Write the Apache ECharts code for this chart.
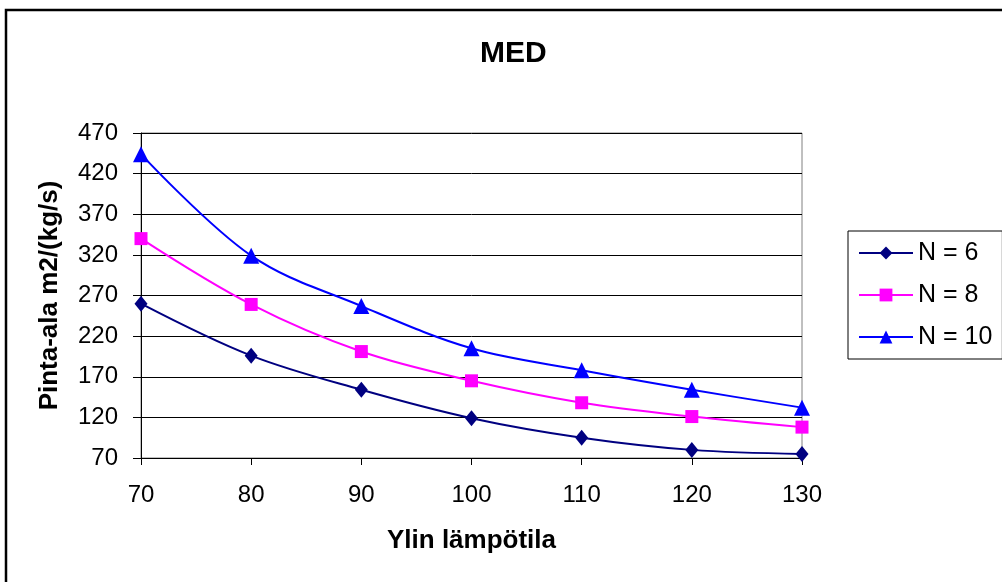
<!DOCTYPE html>
<html>
<head>
<meta charset="utf-8">
<title>MED</title>
<script src="https://cdn.jsdelivr.net/npm/echarts@6/dist/echarts.min.js"></script>
<style>
  html, body { margin: 0; padding: 0; background: #fff; }
  #chart { width: 1002px; height: 582px; }
</style>
</head>
<body>
<div id="chart"></div>
<script>
// Top temperature on the x axis
const temperatures = [70, 80, 90, 100, 110, 120, 130];
// Heat transfer area per unit flow for different effect counts
const areaN6 = [260, 196, 154, 119, 95, 80, 75];
const areaN8 = [340, 259, 201, 165, 138, 121, 108];
const areaN10 = [444, 319, 257, 205, 178, 154, 132];
// Y axis tick values
const yTicks = [70, 120, 170, 220, 270, 320, 370, 420, 470];

const FONT = "'Liberation Sans', Arial, sans-serif";

function pairs(values) {
  return temperatures.map((t, i) => [t, values[i]]);
}

function lineSeries(name, values, color, symbol, size) {
  return {
    name: name,
    type: 'line',
    data: pairs(values),
    smooth: 0.35,
    symbol: symbol,
    symbolSize: size,
    showSymbol: true,
    lineStyle: { color: color, width: 2 },
    itemStyle: { color: color },
    emphasis: { disabled: true },
    z: 3
  };
}

const chart = echarts.init(document.getElementById('chart'), null, { renderer: 'canvas' });

chart.setOption({
  animation: false,
  backgroundColor: '#fff',
  textStyle: { fontFamily: FONT },
  graphic: [{
    type: 'rect',
    shape: { x: 6, y: 10, width: 1200, height: 800 },
    style: { fill: null, stroke: '#000', lineWidth: 2.5 },
    silent: true,
    z: 0
  }],
  title: {
    text: 'MED',
    left: 475,
    top: 34,
    textStyle: { fontFamily: FONT, fontSize: 30, fontWeight: 'bold', color: '#000' }
  },
  grid: {
    left: 141,
    right: 200,
    top: 133,
    bottom: 124,
    show: true,
    borderColor: '#808080',
    borderWidth: 1,
    backgroundColor: 'transparent'
  },
  legend: {
    orient: 'vertical',
    left: 848,
    top: 231,
    padding: [8, 10, 8, 10],
    borderColor: '#000',
    borderWidth: 1,
    backgroundColor: '#fff',
    itemWidth: 54,
    itemHeight: 16,
    itemGap: 14,
    textStyle: { fontFamily: FONT, fontSize: 25, lineHeight: 28, color: '#000' },
    data: ['N = 6', 'N = 8', 'N = 10']
  },
  xAxis: {
    type: 'value',
    min: 70,
    max: 130,
    interval: 10,
    name: 'Ylin lämpötila',
    nameLocation: 'middle',
    nameGap: 70,
    nameTextStyle: { fontFamily: FONT, fontSize: 26, fontWeight: 'bold', color: '#000' },
    axisLine: { show: true, onZero: false, lineStyle: { color: '#000', width: 1 } },
    axisTick: { show: true, inside: false, length: 7, lineStyle: { color: '#000' } },
    axisLabel: { fontFamily: FONT, fontSize: 24, color: '#000', margin: 25 },
    splitLine: { show: false }
  },
  yAxis: {
    type: 'value',
    min: 70,
    max: 470,
    name: 'Pinta-ala m2/(kg/s)',
    nameLocation: 'middle',
    nameRotate: 90,
    nameGap: 78,
    nameTextStyle: { fontFamily: FONT, fontSize: 26, fontWeight: 'bold', color: '#000' },
    axisLine: { show: true, onZero: false, lineStyle: { color: '#000', width: 1 } },
    axisTick: { show: true, inside: false, length: 8, customValues: yTicks, lineStyle: { color: '#000' } },
    axisLabel: { fontFamily: FONT, fontSize: 24, color: '#000', margin: 23, customValues: yTicks },
    splitLine: { show: true, lineStyle: { color: '#000', width: 1 } }
  },
  series: [
    lineSeries('N = 6', areaN6, '#000080', 'diamond', [13, 16]),
    lineSeries('N = 8', areaN8, '#FF00FF', 'rect', 13),
    lineSeries('N = 10', areaN10, '#0000FF', 'triangle', 16)
  ]
});
</script>
</body>
</html>
